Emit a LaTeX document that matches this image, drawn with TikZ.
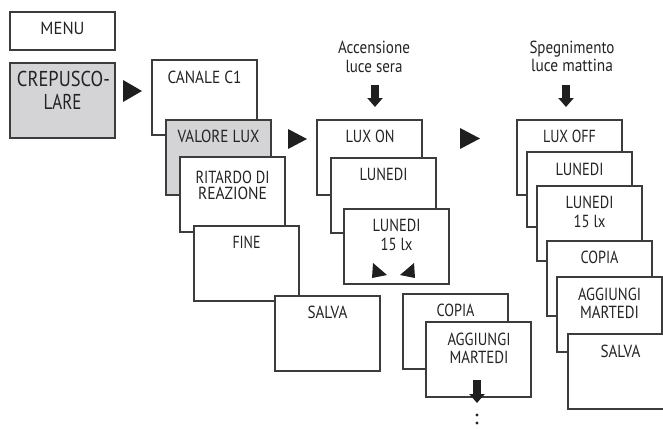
\documentclass[tikz,border=0pt]{standalone}
\usepackage{fontspec}
\setmainfont{PT Sans}
\usetikzlibrary{arrows.meta}
\definecolor{boxgray}{RGB}{212,212,214}
\definecolor{linegray}{RGB}{60,60,60}
\definecolor{txtgray}{RGB}{35,35,35}
\newcommand{\fitw}[2]{\resizebox{#1pt}{\height}{#2}}
\begin{document}
\begin{tikzpicture}[x=1pt,y=-1pt,
  box/.style={draw=linegray, line width=1.2pt, fill=white, anchor=north west,
    minimum width=105pt, minimum height=75pt, inner sep=0pt, outer sep=0pt},
  graybox/.style={box, fill=boxgray},
  txt/.style={text=txtgray, font=\fontsize{17.5}{19}\selectfont, inner sep=0pt, anchor=base},
  bigtxt/.style={txt, font=\fontsize{21.5}{23}\selectfont},
  navtri/.style={fill=black!88},
  dnarrow/.style={draw=black!88, line width=8pt, -{Triangle[width=15pt,length=9pt]}}]
\useasboundingbox (0,0) rectangle (663,428);
\clip (0,0) rectangle (663,428);

% left column
\node[box, minimum height=38pt] (menu) at (10,12) {};
\node[txt] (menut) at (62.5,35) {\fitw{44}{MENU}};
\node[graybox] (crep) at (10,63) {};
\node[bigtxt] (crept1) at (63.5,87) {\fitw{93}{CREPUSCO-}};
\node[bigtxt] (crept2) at (62.5,109) {\fitw{38}{LARE}};
\fill[navtri] (123,80) -- (123,102) -- (142,91) -- cycle;

% second column
\node[box] (canale) at (152,60) {};
\node[txt] (canalet) at (204.5,83) {\fitw{74}{CANALE C1}};
\node[graybox] (valore) at (166,120) {};
\node[txt] (valoret) at (218.5,142) {\fitw{82}{VALORE LUX}};
\node[box] (ritardo) at (180,157) {};
\node[txt] (ritardot1) at (232.5,183) {\fitw{74}{RITARDO DI}};
\node[txt] (ritardot2) at (232.5,199) {\fitw{69}{REAZIONE}};
\node[box] (fine) at (194,226) {};
\node[txt] (finet) at (246.5,248) {\fitw{28}{FINE}};
\node[box] (salva) at (275,296) {};
\node[txt] (salvat) at (327.5,318) {\fitw{40}{SALVA}};
\fill[navtri] (288,129) -- (288,149) -- (307,139) -- cycle;

% third column
\node[txt] (acc1) at (374,53) {\fitw{72}{Accensione}};
\node[txt] (acc2) at (374,72) {\fitw{57}{luce sera}};
\coordinate (accA) at (375,85);
\coordinate (accB) at (375,107);
\draw[dnarrow] (accA) -- (accB);
\node[box] (luxon) at (317,120) {};
\node[txt] (luxont) at (370,142) {\fitw{49}{LUX ON}};
\node[box] (lun1) at (331,158) {};
\node[txt] (lun1t) at (383.5,180) {\fitw{48}{LUNEDI}};
\node[box] (lun2) at (344,209) {};
\node[txt] (lun2t1) at (396.5,231) {\fitw{48}{LUNEDI}};
\node[txt] (lun2t2) at (396.5,250) {\fitw{32}{15 lx}};
\fill[navtri] (373,263) -- (372,278) -- (387,275) -- cycle;
\fill[navtri] (414,263) -- (415,278) -- (400,275) -- cycle;
\node[box] (copia1) at (403,294) {};
\node[txt] (copia1t) at (455.5,316) {\fitw{38}{COPIA}};
\node[box] (agg1) at (426,322) {};
\node[txt] (agg1t1) at (479,345) {\fitw{63}{AGGIUNGI}};
\node[txt] (agg1t2) at (479,363) {\fitw{59}{MARTEDI}};
\coordinate (aggA) at (477,380);
\coordinate (aggB) at (477,403);
\draw[dnarrow] (aggA) -- (aggB);
\fill[txtgray] (477,415) circle (1.6);
\fill[txtgray] (477,423) circle (1.6);
\fill[navtri] (460,128) -- (460,149) -- (480,138.5) -- cycle;

% fourth column
\node[txt] (spe1) at (572,53) {\fitw{85}{Spegnimento}};
\node[txt] (spe2) at (572,72) {\fitw{82}{luce mattina}};
\coordinate (speA) at (566,85);
\coordinate (speB) at (566,107);
\draw[dnarrow] (speA) -- (speB);
\node[box] (luxoff) at (517,120) {};
\node[txt] (luxofft) at (569.5,142) {\fitw{53}{LUX OFF}};
\node[box] (lun3) at (527,152) {};
\node[txt] (lun3t) at (579.5,175) {\fitw{48}{LUNEDI}};
\node[box] (lun4) at (537,186) {};
\node[txt] (lun4t1) at (589.5,208) {\fitw{48}{LUNEDI}};
\node[txt] (lun4t2) at (589.5,227) {\fitw{32}{15 lx}};
\node[box] (copia2) at (547,241) {};
\node[txt] (copia2t) at (599.5,263) {\fitw{38}{COPIA}};
\node[box] (agg2) at (557,277) {};
\node[txt] (agg2t1) at (609.5,300) {\fitw{63}{AGGIUNGI}};
\node[txt] (agg2t2) at (609.5,318) {\fitw{59}{MARTEDI}};
\node[box] (salva2) at (568,334) {};
\node[txt] (salva2t) at (620.5,357) {\fitw{40}{SALVA}};
\end{tikzpicture}
\end{document}
